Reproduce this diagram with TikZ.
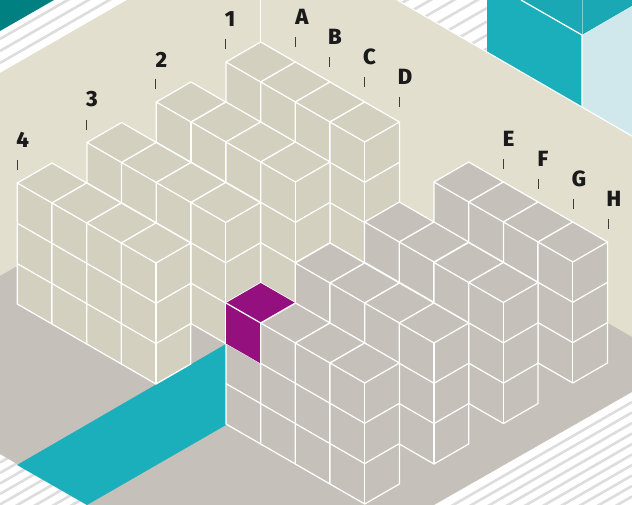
\documentclass[tikz,border=0pt]{standalone}
\usepackage{fontspec}
\setmainfont{Fira Sans}[BoldFont={Fira Sans ExtraBold}]
\definecolor{wallbeige}{HTML}{E2DFCF}
\definecolor{cubelight}{HTML}{D3D0BF}
\definecolor{cubegrey}{HTML}{C5C0B9}
\definecolor{pathcyan}{HTML}{1BAFBB}
\definecolor{pathpale}{HTML}{D0E8EB}
\definecolor{cornerteal}{HTML}{008080}
\definecolor{markpurple}{HTML}{93107E}
\definecolor{stripegrey}{HTML}{DDDDDD}
\definecolor{inkdark}{HTML}{1A1A1A}
\tikzset{
  edgeline/.style={draw=white,line width=1.25pt,line join=round},
  lettermark/.style={font=\bfseries\fontsize{22}{22}\selectfont,text=inkdark,inner sep=0pt},
  tickmark/.style={draw=inkdark!85,line width=0.8pt},
  stripeline/.style={draw=stripegrey,line width=2.6pt}
}
% one stack of three cubes: back corner of the top face at (#1,#2)
\newcommand{\cubestack}[3]{%
  \fill[#3] (#1,#2) -- ++(-34.7,20) -- ++(0,121) -- ++(34.7,20) -- ++(34.7,-20) -- ++(0,-121) -- cycle;
  \draw[edgeline] (#1,#2) -- ++(-34.7,20) -- ++(34.7,20) -- ++(34.7,-20) -- cycle;
  \draw[edgeline] (#1-34.7,#2+20) -- ++(0,121) -- ++(34.7,20) -- ++(34.7,-20) -- ++(0,-121);
  \draw[edgeline] (#1,#2+40) -- ++(0,121);
  \draw[edgeline] (#1-34.7,#2+60.3) -- ++(34.7,20) -- ++(34.7,-20);
  \draw[edgeline] (#1-34.7,#2+100.6) -- ++(34.7,20) -- ++(34.7,-20);
}
\begin{document}
\begin{tikzpicture}[x=1pt,y=-1pt]
\useasboundingbox (0,0) rectangle (632,505);
\fill[white] (0,0) rectangle (632,505);
% stripes behind the room
\begin{scope}
\clip (0,73) -- (127,0) -- (0,0) -- cycle;
\foreach \k in {0,1,2} {
  \draw[stripeline] (0,39+12*\k) -- (140,39+12*\k-80.6);
}
\end{scope}
\begin{scope}
\clip (397,0) -- (487,52) -- (487,0) -- cycle;
\foreach \k in {-6,...,3} {
  \draw[stripeline] (487,8+13.5*\k) -- (380,8+13.5*\k+61.6);
}
\end{scope}
\begin{scope}
\clip (0,454) -- (87,505) -- (0,505) -- cycle;
\foreach \k in {0,...,10} {
  \draw[stripeline] (0,462.5+10.5*\k) -- (100,462.5+10.5*\k-57.6);
}
\end{scope}
\begin{scope}
\clip (434,505) -- (632,392) -- (632,505) -- cycle;
\foreach \k in {0,...,18} {
  \draw[stripeline] (632,402+10.5*\k) -- (400,402+10.5*\k+133.6);
}
\end{scope}
\fill[cornerteal] (0,0) -- (54,0) -- (0,31) -- cycle;
% wall and floor
\fill[wallbeige] (0,73) -- (127,0) -- (397,0) -- (632,136) -- (632,345) -- (0,345) -- cycle;
\fill[cubegrey] (0,276) -- (263,124) -- (632,337) -- (632,392) -- (434,505) -- (87,505) -- (0,454) -- cycle;
\draw[white,line width=1pt] (397,0) -- (632,136);
\draw[edgeline] (260.7,0) -- (260.7,42);
% cyan box top right
\fill[pathcyan] (487,0) -- (487,52) -- (582,107) -- (582,0) -- cycle;
\fill[pathcyan!96!black] (521,0) -- (582,35) -- (632,6) -- (632,0) -- cycle;
\fill[pathpale] (582,35) -- (632,6) -- (632,136) -- (582,107) -- cycle;
\draw[edgeline] (521,0) -- (582,35) -- (582,107);
\draw[white,opacity=0.45,line width=0.8pt] (582,0) -- (582,35);
\draw[white,line width=1pt] (487,52) -- (632,136);
% cyan strip on the floor
\fill[pathcyan] (226,344) -- (226,425) -- (87,505) -- (17,465) -- cycle;
% light block, rows 1 to 4
\foreach \x/\y in {260.7/42,295.4/62,330/82,364.7/102,
                   191/82,226/102,260.7/122,295.4/142,
                   121.6/122.5,156.3/142.5,191/162.5,225.7/182.5,
                   52/163,86.7/183,121.4/203,156/223} {
  \cubestack{\x}{\y}{cubelight}
}
% grey block, rows E to H and the three rows before it
\foreach \x/\y in {468.7/162,503.4/182,538.1/202,572.8/222,
                   399.3/202,434/222,468.7/242.5,503.4/262.5,
                   330/243,364.7/263,399.4/283,434/303,
                   260.7/283,295.4/303,330/323,364.7/343} {
  \cubestack{\x}{\y}{cubegrey}
}
% purple mark
\fill[markpurple] (260.7,283) -- (226,303) -- (260.7,323) -- (295.4,303) -- cycle;
\fill[markpurple] (226,303) -- (260.7,323) -- (260.7,363.5) -- (226,343.5) -- cycle;
\draw[edgeline] (226,303) -- (260.7,323) -- (295.4,303);
\draw[edgeline] (260.7,323) -- (260.7,364);
% labels
\foreach \lab/\x/\y/\tx/\ty in {1/230/19/225/39,2/161.5/60/155.8/79,3/92/99.5/86.7/120,4/22.7/140/17/160,
                                A/302/17/295/37,B/335/37/329.7/57,C/369.5/57/364.3/77,D/405/77/399.3/97,
                                E/508.5/139/503.7/159,F/543/159/538.3/179,G/579/179/573/199,H/614/199/608/219} {
  \node[lettermark] (mark\lab) at (\x,\y) {\lab};
  \draw[tickmark] (\tx,\ty) -- ++(0,10.5);
}
\end{tikzpicture}
\end{document}
